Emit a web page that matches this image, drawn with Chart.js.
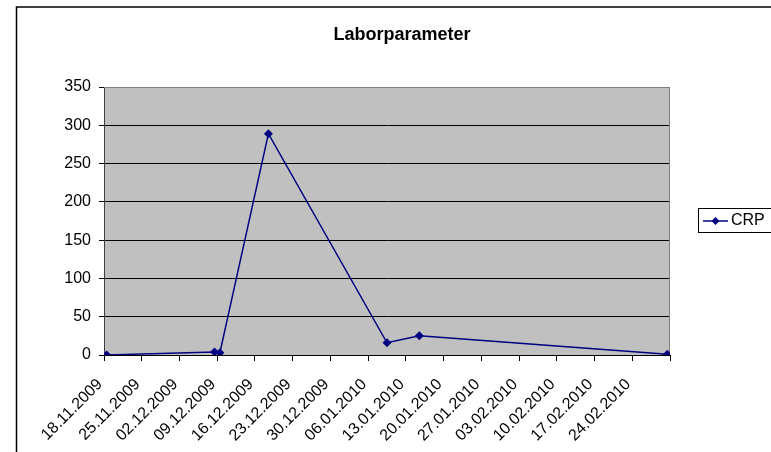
<!DOCTYPE html>
<html>
<head>
<meta charset="utf-8">
<script src="https://cdn.jsdelivr.net/npm/chart.js@4.4.0/dist/chart.umd.min.js"></script>
<style>
  html, body { margin: 0; padding: 0; background: #fff; }
  #wrap { width: 771px; height: 452px; }
</style>
</head>
<body>
<div id="wrap"><canvas id="grafico" width="771" height="452"></canvas></div>
<script>
// ---------------- DADOS ----------------
const titulo = "Laborparameter";
const serieNome = "CRP";
const datasMedicao = ["18.11.2009", "08.12.2009", "09.12.2009", "18.12.2009", "09.01.2010", "15.01.2010", "02.03.2010"];
const valoresCRP = [0, 4, 3, 289, 16, 25, 1];
const rotulosEixoX = ["18.11.2009", "25.11.2009", "02.12.2009", "09.12.2009", "16.12.2009", "23.12.2009",
  "30.12.2009", "06.01.2010", "13.01.2010", "20.01.2010", "27.01.2010", "03.02.2010",
  "10.02.2010", "17.02.2010", "24.02.2010"];
const fimEixoX = "03.03.2010";
const rotulosEixoY = [0, 50, 100, 150, 200, 250, 300, 350];

const fonte = "'Liberation Sans', Arial, sans-serif";
const azul = "#000080";

// converte dd.mm.yyyy em dias desde o inicio do eixo
function paraDia(txt) {
  const [d, m, a] = txt.split(".").map(Number);
  return Date.UTC(a, m - 1, d) / 86400000;
}
const dia0 = paraDia(rotulosEixoX[0]);
const diasTicks = rotulosEixoX.concat([fimEixoX]).map(t => paraDia(t) - dia0);
// Excel desenha os pontos no meio do dia
const pontos = datasMedicao.map((t, i) => ({ x: paraDia(t) - dia0 + 0.5, y: valoresCRP[i] }));

// ---------------- PLUGIN FUNDO / TITULO / LEGENDA ----------------
const molduraExcel = {
  id: "molduraExcel",
  beforeDraw(chart) {
    const c = chart.ctx;
    const a = chart.chartArea;
    c.save();
    c.fillStyle = "#c0c0c0";
    c.fillRect(a.left, a.top, a.right - a.left, a.bottom - a.top);
    c.strokeStyle = "#000";
    c.lineWidth = 1.5;
    c.beginPath();
    c.moveTo(16.5, 460);
    c.lineTo(16.5, 7);
    c.lineTo(780, 7);
    c.stroke();
    c.restore();
  },
  beforeDatasetsDraw(chart) {
    const c = chart.ctx;
    const a = chart.chartArea;
    c.save();
    c.strokeStyle = "#808080";
    c.lineWidth = 1;
    c.beginPath();
    c.moveTo(a.left, a.top + 0.5);
    c.lineTo(a.right - 0.5, a.top + 0.5);
    c.lineTo(a.right - 0.5, a.bottom);
    c.stroke();
    c.restore();
  },
  afterDraw(chart) {
    const c = chart.ctx;
    c.save();
    // titulo
    c.fillStyle = "#000";
    c.font = "bold 18px " + fonte;
    c.textAlign = "center";
    c.textBaseline = "alphabetic";
    c.fillText(titulo, 402, 40);
    // legenda
    c.fillStyle = "#fff";
    c.fillRect(698.5, 208.5, 100, 24);
    c.strokeStyle = "#000";
    c.lineWidth = 1;
    c.strokeRect(698.5, 208.5, 100, 24);
    c.strokeStyle = azul;
    c.lineWidth = 1.5;
    c.beginPath();
    c.moveTo(703, 221);
    c.lineTo(728, 221);
    c.stroke();
    c.fillStyle = azul;
    c.beginPath();
    c.moveTo(715.5, 217);
    c.lineTo(719.5, 221);
    c.lineTo(715.5, 225);
    c.lineTo(711.5, 221);
    c.closePath();
    c.fill();
    c.fillStyle = "#000";
    c.font = "16px " + fonte;
    c.textAlign = "left";
    c.textBaseline = "middle";
    c.fillText(serieNome, 731, 221);
    c.restore();
  }
};

// ---------------- GRAFICO ----------------
const ctx = document.getElementById("grafico").getContext("2d");
const grafico = new Chart(ctx, {
  type: "line",
  data: {
    datasets: [{
      label: serieNome,
      data: pontos,
      borderColor: azul,
      backgroundColor: azul,
      borderWidth: 1.5,
      pointStyle: "rectRot",
      pointRadius: 4.5,
      pointBorderWidth: 0,
      tension: 0
    }]
  },
  options: {
    responsive: false,
    animation: false,
    layout: { padding: { left: 0, right: 101, top: 87, bottom: 0 } },
    scales: {
      x: {
        type: "linear",
        min: diasTicks[0],
        max: diasTicks[diasTicks.length - 1],
        afterBuildTicks: s => { s.ticks = diasTicks.map(v => ({ value: v })); },
        afterFit: s => { s.height = 97; },
        grid: { drawOnChartArea: false, color: "#000", tickLength: 6 },
        border: { color: "#000", width: 1 },
        ticks: {
          autoSkip: false,
          minRotation: 45,
          maxRotation: 45,
          padding: 14,
          labelOffset: -4,
          color: "#000",
          font: { family: fonte, size: 16 },
          callback: (v, i) => rotulosEixoX[i] ?? ""
        }
      },
      y: {
        min: rotulosEixoY[0],
        max: rotulosEixoY[rotulosEixoY.length - 1],
        afterBuildTicks: s => { s.ticks = rotulosEixoY.map(v => ({ value: v })); },
        afterFit: s => { s.width = 104; },
        grid: {
          color: c => (c.tick && c.tick.value === 350 ? "#808080" : "#000"),
          tickColor: "#000",
          tickLength: 5
        },
        border: { color: "#404040", width: 1 },
        ticks: {
          padding: 8,
          color: "#000",
          font: { family: fonte, size: 16 }
        }
      }
    },
    plugins: {
      legend: { display: false },
      title: { display: false },
      tooltip: { enabled: false }
    }
  },
  plugins: [molduraExcel]
});
</script>
</body>
</html>
